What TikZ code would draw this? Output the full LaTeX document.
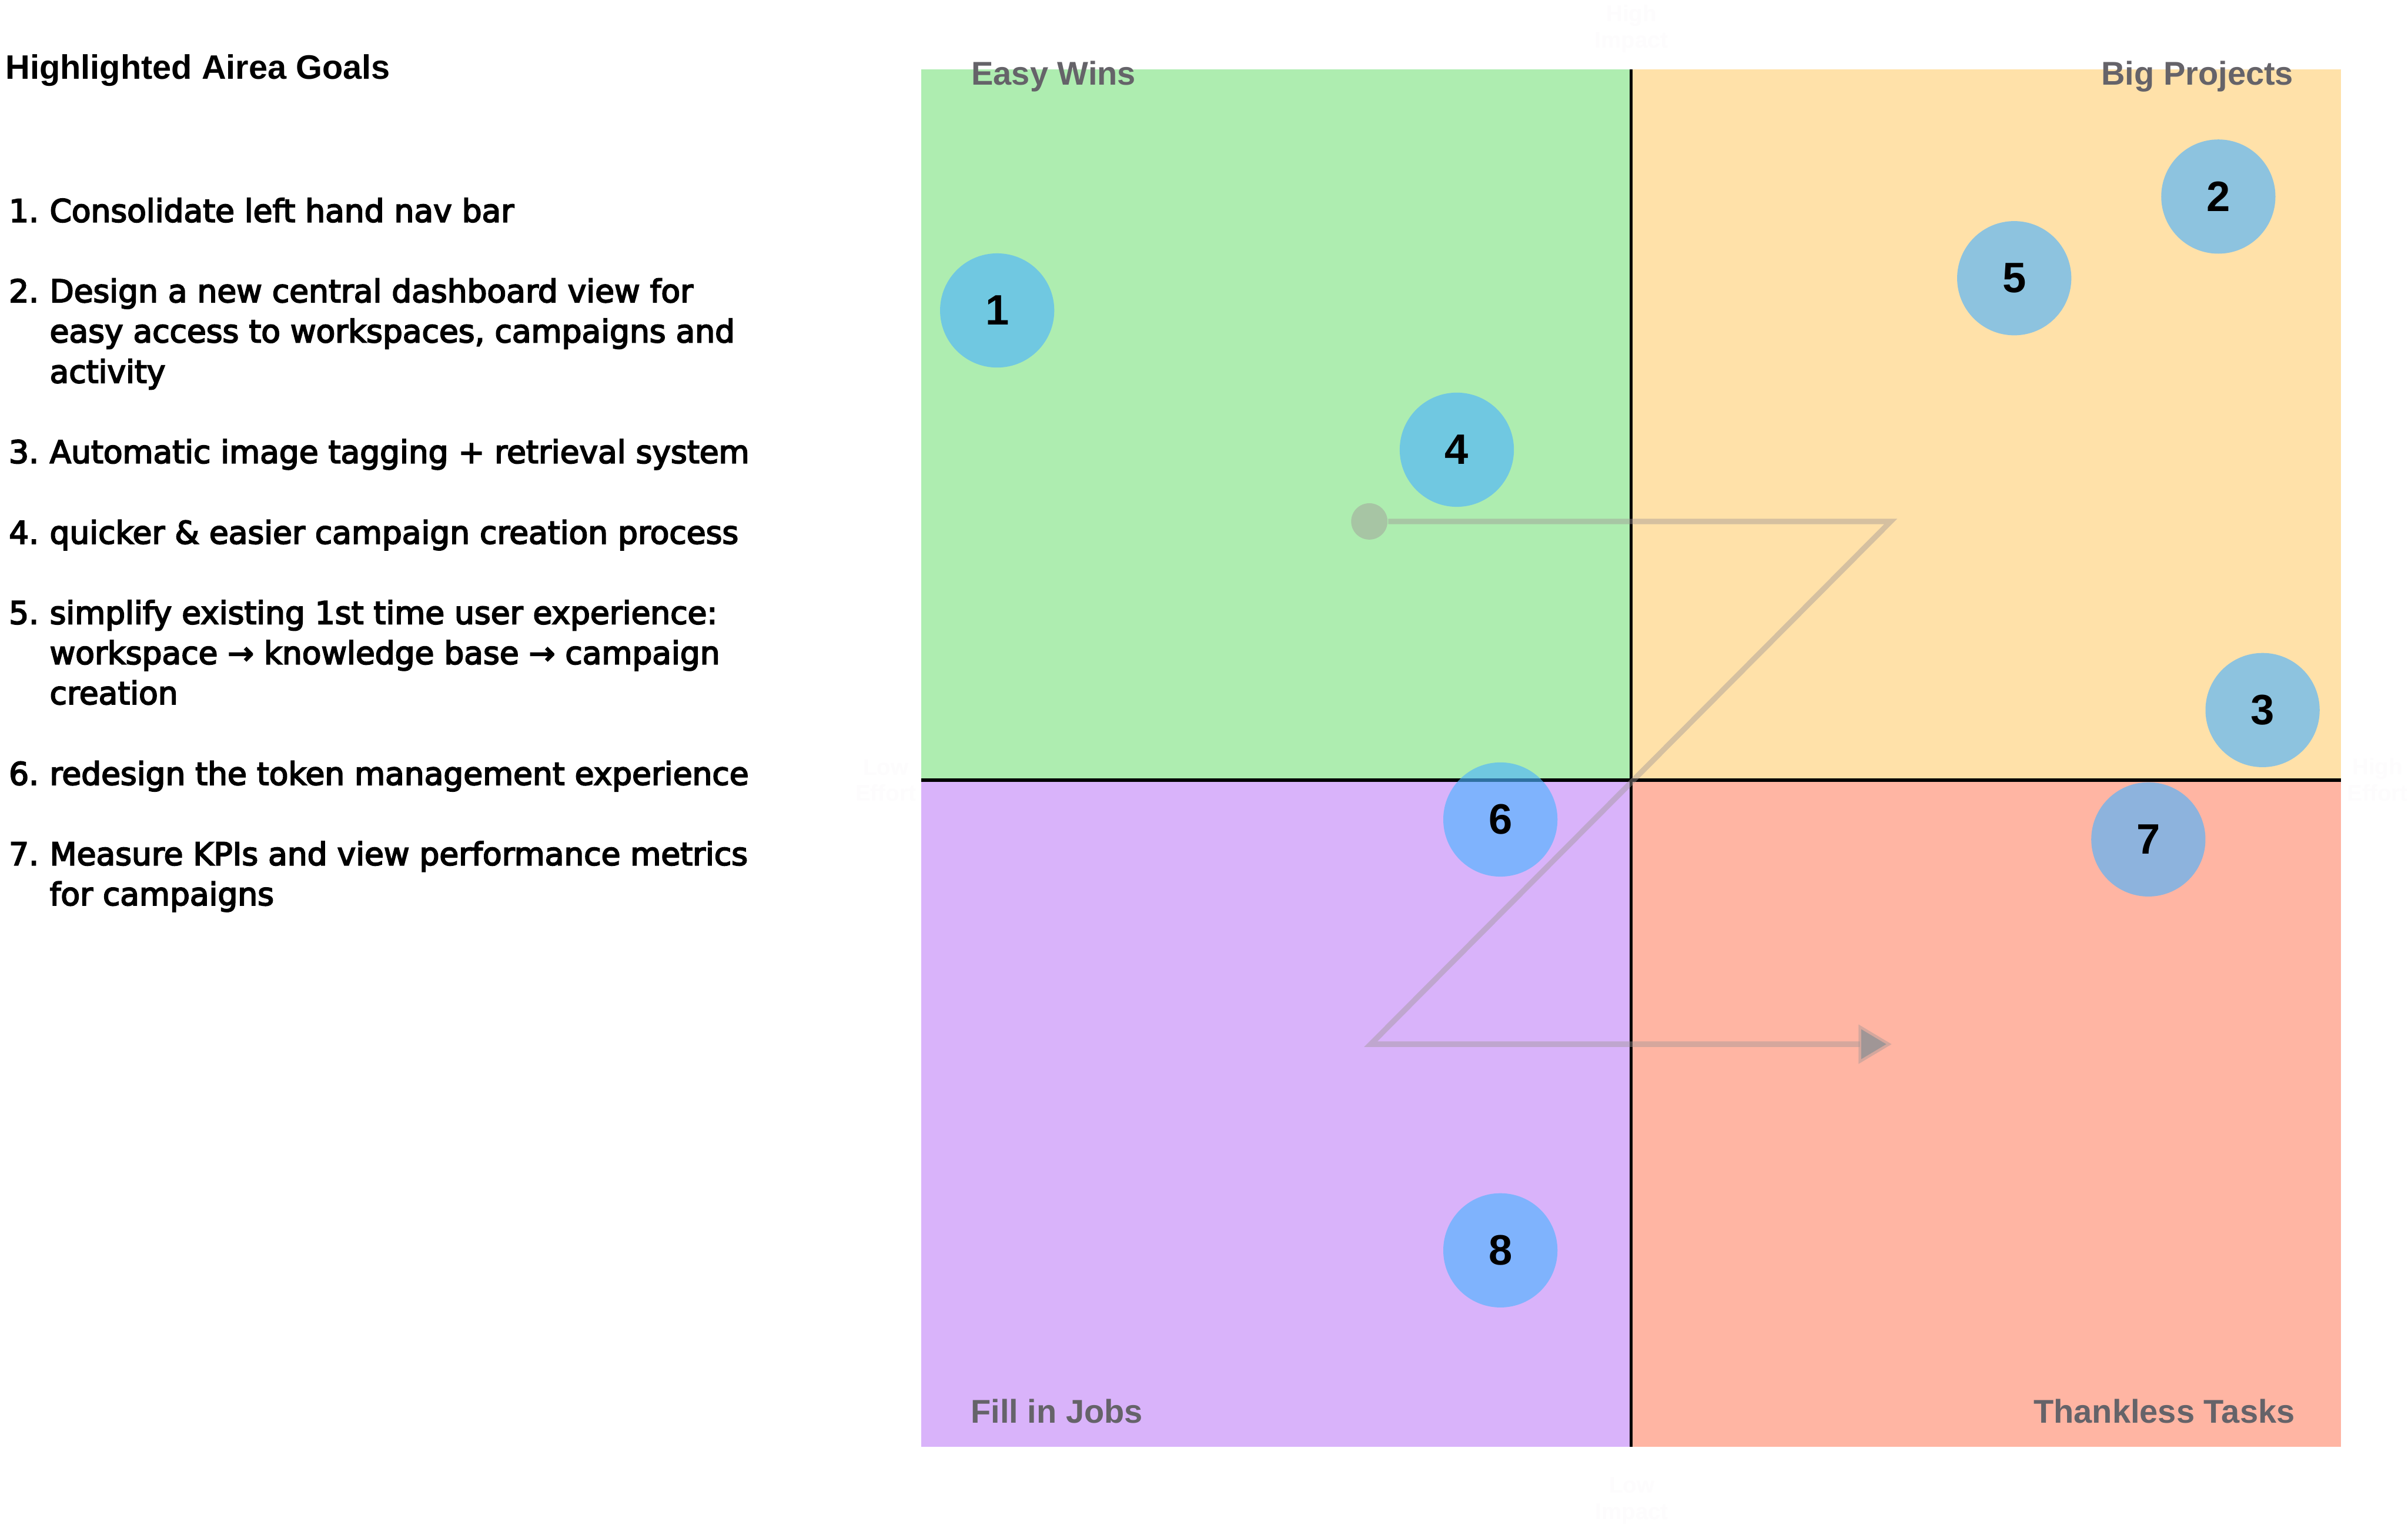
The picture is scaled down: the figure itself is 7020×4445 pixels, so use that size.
\documentclass[tikz,border=0pt]{standalone}
\usepackage{fontspec}
\setmainfont{Liberation Sans}
\newfontfamily\listfont{DejaVu Sans}
\newfontfamily\labfont{Liberation Sans}
\usetikzlibrary{arrows.meta}
\definecolor{qgreen}{RGB}{174,237,176}
\definecolor{qyellow}{RGB}{255,225,169}
\definecolor{qpurple}{RGB}{217,179,250}
\definecolor{qsalmon}{RGB}{255,181,163}
\definecolor{dotblue}{RGB}{76,179,255}
\definecolor{labgray}{RGB}{101,99,105}
\definecolor{zgray}{RGB}{160,150,150}
\definecolor{faint}{RGB}{253,252,253}
\begin{document}
\begin{tikzpicture}[x=0.1pt,y=-0.1pt,
  listline/.style={anchor=base west, inner sep=0pt, font=\listfont\fontsize{9.15}{11.7}\selectfont,
    execute at begin node={\special{pdf:literal direct 2 Tr 0.34 w}},
    execute at end node={\special{pdf:literal direct 0 Tr}}},
  titletext/.style={anchor=base west, inner sep=0pt, font=\labfont\bfseries\fontsize{9.9}{11}\selectfont},
  quadlabel/.style={inner sep=0pt, text=labgray, font=\labfont\bfseries\fontsize{9.6}{11}\selectfont},
  axislabel/.style={anchor=base, inner sep=0pt, text=faint, font=\labfont\bfseries\fontsize{6.6}{7.8}\selectfont},
  goal/.style={circle, inner sep=0pt, minimum size=33.3pt, fill=dotblue, fill opacity=0.63, text opacity=1, text=black, font=\labfont\bfseries\fontsize{12.4}{14}\selectfont},
  zpath/.style={draw=zgray, draw opacity=0.44, line width=1.6pt, miter limit=10, line join=miter},
]
\useasboundingbox (0,0) rectangle (7020,4445);
\fill[white] (0,0) rectangle (7020,4445);

% quadrants
\fill[qgreen]  (2686,203)  rectangle (4755,2274);
\fill[qyellow] (4755,203)  rectangle (6824,2274);
\fill[qpurple] (2686,2274) rectangle (4755,4218);
\fill[qsalmon] (4755,2274) rectangle (6824,4218);
\draw[line width=1pt, black] (4755,203) -- (4755,4218);
\draw[line width=1pt, black] (2686,2274) -- (6824,2274);

% faint axis labels
\node[axislabel] (hiA) at (4756,62) {High};
\node[axislabel] (hiB) at (4756,140) {Impact};
\node[axislabel] (heA) at (6931,2258) {High};
\node[axislabel] (heB) at (6931,2335) {Effort};
\node[axislabel] (loA) at (4757,4352) {Low};
\node[axislabel] (loB) at (4757,4430) {Impact};
\node[axislabel] (leA) at (2582,2260) {Low};
\node[axislabel] (leB) at (2582,2335) {Effort};

% quadrant labels
\node[quadlabel, anchor=base west] (qew) at (2830,248) {Easy Wins};
\node[quadlabel, anchor=base east] (qbp) at (6688,247) {Big Projects};
\node[quadlabel, anchor=base west] (qfj) at (2828,4149) {Fill in Jobs};
\node[quadlabel, anchor=base east] (qtt) at (6692,4149) {Thankless Tasks};

% Z path
\node[circle, inner sep=0pt, minimum size=10.6pt, fill=zgray, fill opacity=0.46] (zstart) at (3992,1520) {};
\coordinate (z1) at (5512,1520);
\coordinate (z2) at (3996,3044);
\coordinate (zend) at (5515,3044);
\draw[zpath, -{Triangle[length=9.7pt, width=11.1pt]}] (zstart.east) -- (z1) -- (z2) -- (zend);

% goal circles
\node[goal] (g1) at (2907,905) {1};
\node[goal] (g2) at (6467,573) {2};
\node[goal] (g3) at (6596,2070) {3};
\node[goal] (g4) at (4247,1311) {4};
\node[goal] (g5) at (5872,811) {5};
\node[goal] (g6) at (4374,2389) {6};
\node[goal] (g7) at (6263,2447) {7};
\node[goal] (g8) at (4374,3645) {8};

% left text
\node[titletext] (title) at (14,231) {Highlighted Airea Goals};

\node[listline] (n1) at (24,647) {1.};
\node[listline] (t1) at (143,647) {Consolidate left hand nav bar};
\node[listline] (n2) at (24,881) {2.};
\node[listline] (t2a) at (143,881) {Design a new central dashboard view for};
\node[listline] (t2b) at (143,998) {easy access to workspaces, campaigns and};
\node[listline] (t2c) at (143,1116) {activity};
\node[listline] (n3) at (24,1350) {3.};
\node[listline] (t3) at (143,1350) {Automatic image tagging + retrieval system};
\node[listline] (n4) at (24,1585) {4.};
\node[listline] (t4) at (143,1585) {quicker \& easier campaign creation process};
\node[listline] (n5) at (24,1819) {5.};
\node[listline] (t5a) at (143,1819) {simplify existing 1st time user experience:};
\node[listline] (t5b) at (143,1936) {workspace → knowledge base → campaign};
\node[listline] (t5c) at (143,2053) {creation};
\node[listline] (n6) at (24,2288) {6.};
\node[listline] (t6) at (143,2288) {redesign the token management experience};
\node[listline] (n7) at (24,2522) {7.};
\node[listline] (t7a) at (143,2522) {Measure KPIs and view performance metrics};
\node[listline] (t7b) at (143,2639) {for campaigns};
\end{tikzpicture}
\end{document}
